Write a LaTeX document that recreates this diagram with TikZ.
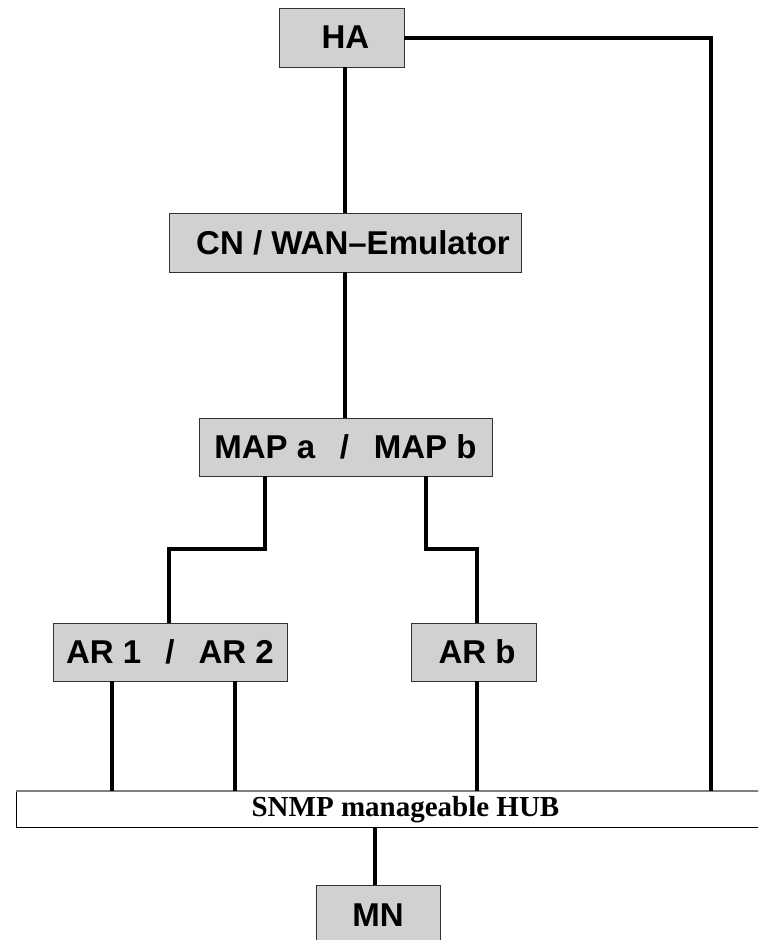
\documentclass[tikz,border=0pt]{standalone}
\usepackage{fontspec}
\setmainfont{Liberation Sans}
\newfontfamily\hubfont{Liberation Serif}
\begin{document}
\begin{tikzpicture}[x=1pt,y=-1pt,
  box/.style={draw=black!80, line width=0.9pt, fill=black!18, rectangle, inner sep=0pt,
    font=\fontsize{33}{38}\selectfont\bfseries},
  wire/.style={line width=3.5pt, black}]
\useasboundingbox (0,0) rectangle (758,940);
\clip (0,0) rectangle (758,940);
\fill[white] (0,0) rectangle (758,940);

\node[box, minimum width=125pt, minimum height=59pt] (ha) at (341.5,37.5) {\hspace{8pt}HA};
\node[box, minimum width=352pt, minimum height=59pt] (cn) at (345,242.5) {\hspace{16pt}\raisebox{-2pt}{CN / WAN--Emulator}};
\node[box, minimum width=293pt, minimum height=58pt] (map) at (345.5,447) {MAP a\hspace{0.75em}/\hspace{0.75em}MAP b};
\node[box, minimum width=234pt, minimum height=58pt] (ar12) at (170,652) {AR 1\hspace{0.73em}/\hspace{0.73em}AR 2};
\node[box, minimum width=125pt, minimum height=58pt] (arb) at (473.5,652) {\hspace{7pt}AR b};
\node[box, minimum width=124pt, minimum height=60pt, anchor=north] (mn) at (378,885) {\raisebox{-3pt}{MN}\hspace{8pt}};
\node[draw=black, line width=0.9pt, fill=white, rectangle, inner sep=0pt,
  minimum width=778pt, minimum height=36pt, anchor=north west,
  font=\hubfont\fontsize{29}{32}\selectfont\bfseries] (hub) at (16,791) {\raisebox{-1pt}{SNMP manageable HUB}};
\draw[black!50, line width=1.2pt] (hub.north west) -- (hub.north east);

\coordinate (hr) at (711,0);
\draw[wire] (ha.south -| 345,0) -- (cn.north -| 345,0);
\draw[wire] (cn.south) -- (map.north -| cn.south);
\draw[wire] (ha.east |- 0,38) -| (hub.north -| hr);
\draw[wire] (map.south -| 265,0) -- (265,549) -| (ar12.north -| 169,0);
\draw[wire] (map.south -| 426,0) -- (426,549) -| (arb.north -| 477,0);
\draw[wire] (ar12.south -| 112,0) -- (hub.north -| 112,0);
\draw[wire] (ar12.south -| 235,0) -- (hub.north -| 235,0);
\draw[wire] (arb.south -| 477,0) -- (hub.north -| 477,0);
\draw[wire] (hub.south -| 375,0) -- (mn.north -| 375,0);
\end{tikzpicture}
\end{document}
